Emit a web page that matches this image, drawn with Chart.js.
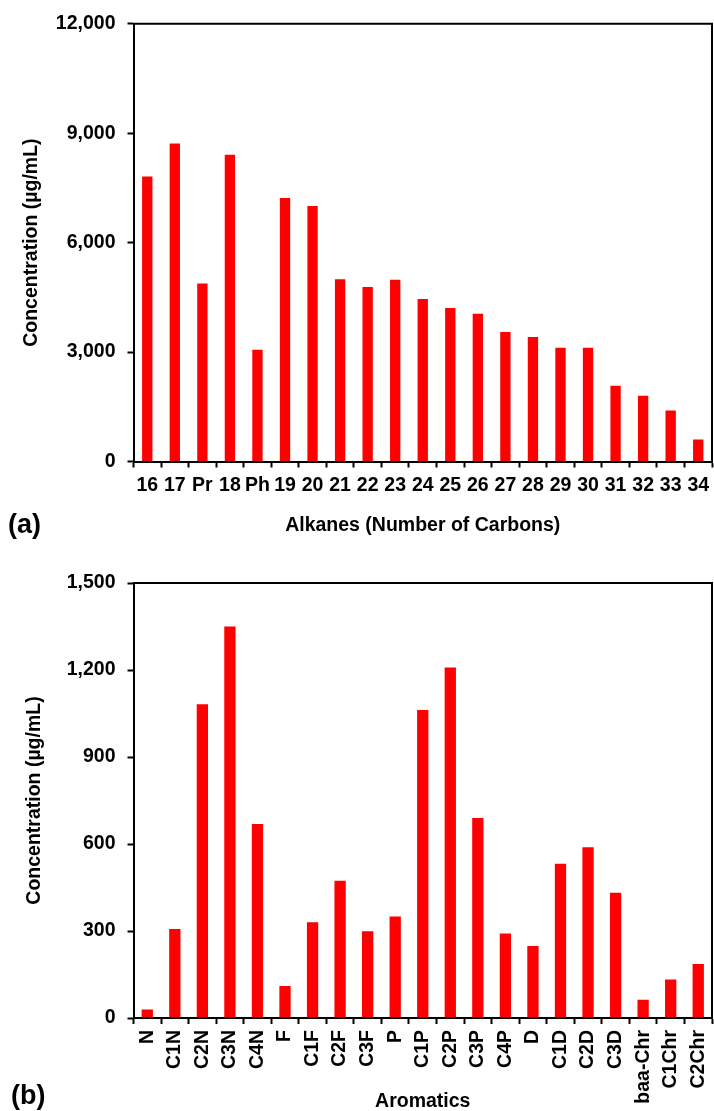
<!DOCTYPE html>
<html>
<head>
<meta charset="utf-8">
<script src="https://cdn.jsdelivr.net/npm/chart.js@4"></script>
<style>
  html, body { margin: 0; padding: 0; background: #fff; overflow: hidden; }
  body { width: 714px; height: 1111px; position: relative; font-family: "Liberation Sans", Arial, sans-serif; }
  .panel { position: absolute; left: 0; }
  .tag { position: absolute; font-weight: bold; font-size: 27px; color: #000; line-height: 1; }
</style>
</head>
<body>
<div class="panel" style="top:0"><canvas id="alkanes" width="714" height="540"></canvas></div>
<div class="panel" style="top:540px"><canvas id="aromatics" width="714" height="571"></canvas></div>
<div class="tag" style="left:8px; top:511px">(a)</div>
<div class="tag" style="left:11px; top:1082px">(b)</div>
<script>
// (a) alkanes
const alkaneLabels = ['16', '17', 'Pr', '18', 'Ph', '19', '20', '21', '22', '23', '24', '25', '26', '27', '28', '29', '30', '31', '32', '33', '34'];
const alkaneValues = [7810, 8715, 4880, 8410, 3060, 7220, 7000, 4995, 4780, 4980, 4455, 4210, 4050, 3550, 3415, 3115, 3115, 2075, 1800, 1395, 600];

// (b) aromatics
const aromaticLabels = ['N', 'C1N', 'C2N', 'C3N', 'C4N', 'F', 'C1F', 'C2F', 'C3F', 'P', 'C1P', 'C2P', 'C3P', 'C4P', 'D', 'C1D', 'C2D', 'C3D', 'baa-Chr', 'C1Chr', 'C2Chr'];
const aromaticValues = [29, 307, 1082, 1350, 669, 110, 330, 473, 299, 350, 1062, 1209, 690, 291, 248, 532, 589, 432, 63, 133, 186];

const alkaneTicks = [0, 3000, 6000, 9000, 12000];
const aromaticTicks = [0, 300, 600, 900, 1200, 1500];

const FAMILY = '"Liberation Sans", Arial, sans-serif';

// top and right border of the plot box
const frame = {
    id: 'frame',
    afterDraw(chart) {
        const a = chart.chartArea;
        const c = chart.ctx;
        c.save();
        c.strokeStyle = '#000';
        c.lineWidth = 2;
        c.beginPath();
        c.moveTo(a.left, a.top);
        c.lineTo(a.right, a.top);
        c.lineTo(a.right, a.bottom);
        c.stroke();
        c.restore();
    }
};

function makeChart(id, labels, values, ticks, opts) {
    return new Chart(document.getElementById(id), {
        type: 'bar',
        data: {
            labels: labels,
            datasets: [{
                data: values,
                backgroundColor: '#ff0000',
                borderWidth: 0,
                barPercentage: opts.barPct,
                categoryPercentage: 1
            }]
        },
        options: {
            responsive: false,
            animation: false,
            layout: { padding: { top: opts.top, right: 2, left: 0, bottom: 0 } },
            plugins: { legend: { display: false }, tooltip: { enabled: false } },
            scales: {
                x: {
                    grid: { drawOnChartArea: false, drawTicks: true, tickLength: 6, tickWidth: 2, tickColor: '#000' },
                    border: { color: '#000', width: 2 },
                    ticks: {
                        color: '#000',
                        autoSkip: false,
                        padding: opts.xPad,
                        minRotation: opts.rot,
                        maxRotation: opts.rot,
                        font: { family: FAMILY, weight: 'bold', size: 19.5 }
                    },
                    title: {
                        display: true,
                        text: opts.xTitle,
                        color: '#000',
                        padding: { top: 0, bottom: opts.titleBottom },
                        font: { family: FAMILY, weight: 'bold', size: 19.5, lineHeight: opts.titleLh }
                    },
                    afterFit: s => {
                        s.height = opts.xHeight;
                        s.paddingLeft = 0;
                        s.paddingRight = 0;
                    }
                },
                y: {
                    min: 0,
                    max: ticks[ticks.length - 1],
                    afterBuildTicks: s => { s.ticks = ticks.map(v => ({ value: v })); },
                    grid: { drawOnChartArea: false, drawTicks: true, tickLength: 6, tickWidth: 2, tickColor: '#000' },
                    border: { color: '#000', width: 2 },
                    ticks: {
                        color: '#000',
                        padding: 12,
                        font: { family: FAMILY, weight: 'bold', size: 19.5 }
                    },
                    title: {
                        display: true,
                        text: 'Concentration (µg/mL)',
                        color: '#000',
                        padding: { top: opts.yTitleTop, bottom: 0 },
                        font: { family: FAMILY, weight: 'bold', size: 19.5 }
                    },
                    afterFit: s => { s.width = 133.5; }
                }
            }
        },
        plugins: [frame]
    });
}

makeChart('alkanes', alkaneLabels, alkaneValues, alkaneTicks, {
    top: 19, barPct: 0.375, xPad: 6, rot: 0,
    xTitle: 'Alkanes (Number of Carbons)', titleBottom: 3, titleLh: 1.2, xHeight: 78.5, yTitleTop: 20
});

makeChart('aromatics', aromaticLabels, aromaticValues, aromaticTicks, {
    top: 43, barPct: 0.41, xPad: 6, rot: 90,
    xTitle: 'Aromatics', titleBottom: 0, titleLh: 1, xHeight: 93, yTitleTop: 23
});
</script>
</body>
</html>
